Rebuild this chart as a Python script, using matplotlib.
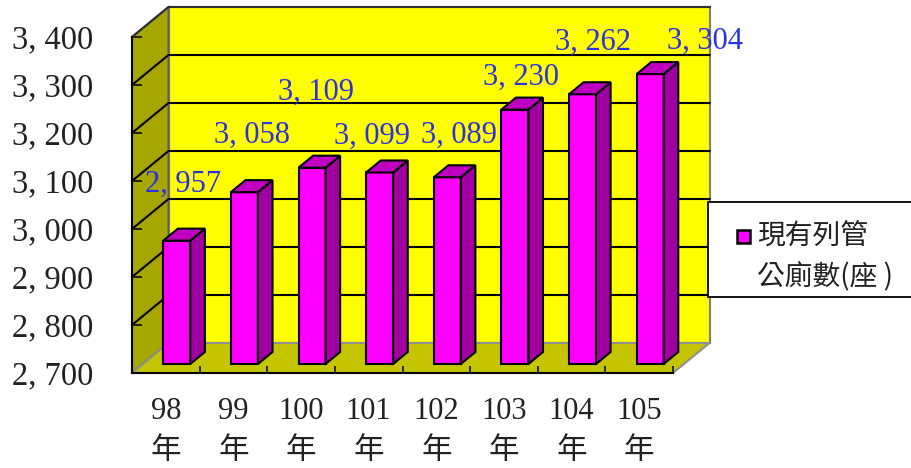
import matplotlib
matplotlib.use("Agg")
import matplotlib.pyplot as plt
from matplotlib.patches import Polygon, Rectangle

years = ["98", "99", "100", "101", "102", "103", "104", "105"]
counts = [2957, 3058, 3109, 3099, 3089, 3230, 3262, 3304]
y_ticks = [2700, 2800, 2900, 3000, 3100, 3200, 3300, 3400]
series_line1 = "現有列管"
series_line2 = "公廁數(座 )"

# hand placed data labels in the original, offset from bar top, in pixels
label_dx = [6, 8, 4, -8, 12, 6, 10, 55]
label_dy = [56, 57, 75, 36, 42, 32, 52, 33]

W, H = 911, 468
DEPTH_X = 36.5 / 67.6   # full depth of the box, category units
DEPTH_Y = 30 / 0.48     # full depth of the box, value units
BAR_W = 27 / 67.6

LATIN = ["Liberation Serif", "Noto Sans CJK TC"]
CJK = ["Noto Sans CJK TC", "Liberation Serif"]


def proj(x, v, d=0.0):
	return (x + DEPTH_X * d, v + DEPTH_Y * d)


def face(ax, pts, color, z, lw=1.5, edge="black"):
	ax.add_patch(Polygon(pts, closed=True, facecolor=color, edgecolor=edge,
		linewidth=lw, zorder=z, clip_on=False, joinstyle="miter"))


fig = plt.figure(figsize=(W / 100, H / 100), dpi=100)
ax = fig.add_axes([132 / W, (H - 373) / H, 541 / W, 336 / H])
ax.patch.set_visible(False)
n = len(years)
ymin, ymax = y_ticks[0], y_ticks[-1]
ax.set_xlim(0, n)
ax.set_ylim(ymin, ymax)

# walls and floor
face(ax, [proj(0, ymin, 1), proj(n, ymin, 1), proj(n, ymax, 1), proj(0, ymax, 1)], "#ffff00", 1, 1.5, "#808080")
face(ax, [proj(0, ymin), proj(0, ymax), proj(0, ymax, 1), proj(0, ymin, 1)], "#a6a600", 1, 1.5, "#606060")
face(ax, [proj(0, ymin), proj(n, ymin), proj(n, ymin, 1), proj(0, ymin, 1)], "#c4c400", 1, 1.5, "#909090")

# gridlines run across the left wall and the back wall
for v in y_ticks[1:-1]:
	pts = [proj(0, v), proj(0, v, 1), proj(n, v, 1)]
	ax.plot([p[0] for p in pts], [p[1] for p in pts], color="black", lw=1.5, zorder=2, clip_on=False)
ax.plot(*zip(proj(0, ymax, 1), proj(n, ymax, 1)), color="#303030", lw=1.5, zorder=2, clip_on=False)
ax.plot(*zip(proj(0, ymax), proj(0, ymax, 1)), color="#303030", lw=1.5, zorder=2, clip_on=False)

# bars
d0, d1 = 0.3, 0.7
for i, v in enumerate(counts):
	left = i + 0.5 - BAR_W / 2
	right = i + 0.5 + BAR_W / 2
	z = 3 + i
	face(ax, [proj(left, ymin, d0), proj(right, ymin, d0), proj(right, v, d0), proj(left, v, d0)], "#ff00ff", z)
	face(ax, [proj(right, ymin, d0), proj(right, ymin, d1), proj(right, v, d1), proj(right, v, d0)], "#a000a0", z)
	face(ax, [proj(left, v, d0), proj(right, v, d0), proj(right, v, d1), proj(left, v, d1)], "#c000c0", z)
	ax.annotate(f"{v:,}".replace(",", ", "), proj(i + 0.5, v, d0),
		xytext=(label_dx[i] * 0.72, label_dy[i] * 0.72), textcoords="offset points",
		ha="center", va="center", color="#2a32e0", fontsize=22, family=LATIN,
		zorder=20, annotation_clip=False)

# axes
for s in ["top", "right"]:
	ax.spines[s].set_visible(False)
for s in ["left", "bottom"]:
	ax.spines[s].set_linewidth(1.5)
	ax.spines[s].set_zorder(15)

ax.set_yticks(y_ticks)
ax.set_yticklabels([f"{v:,}".replace(",", ", ") for v in y_ticks], family=LATIN, fontsize=23.5, color="#222222")
ax.tick_params(axis="y", direction="in", length=7.2, width=1.1, pad=28)
ax.set_xticks(range(n + 1))
ax.set_xticklabels([])
ax.tick_params(axis="x", which="major", direction="in", length=5, width=1.1)
ax.set_xticks([i + 0.5 for i in range(n)], minor=True)
ax.set_xticklabels([y + "\n年" for y in years], minor=True, family=LATIN, fontsize=22,
	color="#222222", linespacing=1.5)
ax.tick_params(axis="x", which="minor", length=0, pad=17)

# legend box runs off the right side of the picture
fig.add_artist(Rectangle((708 / W, (H - 297) / H), 230 / W, 95 / H, transform=fig.transFigure,
	facecolor="white", edgecolor="black", linewidth=1.3, clip_on=False))
fig.add_artist(Rectangle((736.5 / W, (H - 243) / H), 13 / W, 13 / H, transform=fig.transFigure,
	facecolor="#ff00ff", edgecolor="black", linewidth=1.8))
fig.text(757 / W, (H - 236) / H, series_line1, family=CJK, fontsize=20, color="#222222", ha="left", va="center")
fig.text(757 / W, (H - 277) / H, series_line2, family=CJK, fontsize=20, color="#222222", ha="left", va="center")

fig.savefig("out.png", dpi=100)
